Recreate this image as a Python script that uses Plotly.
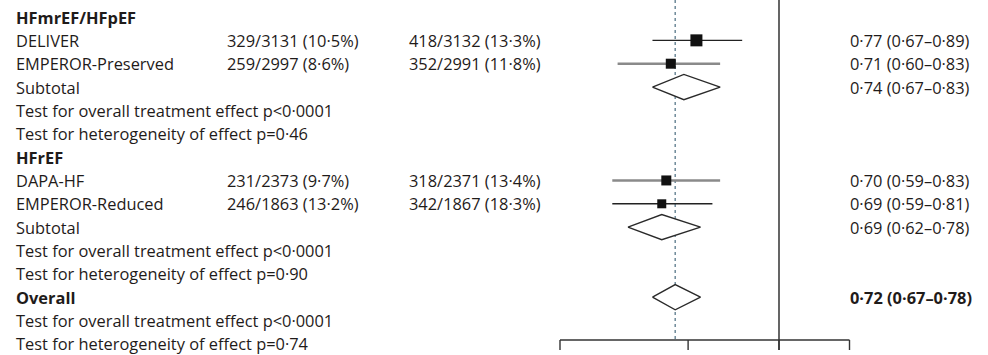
import math
import plotly.graph_objects as go

# Table rows, top to bottom
labels = [
    "HFmrEF/HFpEF", "DELIVER", "EMPEROR-Preserved", "Subtotal",
    "Test for overall treatment effect p<0·0001", "Test for heterogeneity of effect p=0·46",
    "HFrEF", "DAPA-HF", "EMPEROR-Reduced", "Subtotal",
    "Test for overall treatment effect p<0·0001", "Test for heterogeneity of effect p=0·90",
    "Overall",
    "Test for overall treatment effect p<0·0001", "Test for heterogeneity of effect p=0·74",
]
bold_rows = [0, 6, 12]

# Individual trials
study_rows = [1, 2, 7, 8]
sglt2_events = ["329/3131 (10·5%)", "259/2997 (8·6%)", "231/2373 (9·7%)", "246/1863 (13·2%)"]
placebo_events = ["418/3132 (13·3%)", "352/2991 (11·8%)", "318/2371 (13·4%)", "342/1867 (18·3%)"]
study_hr = [0.77, 0.71, 0.70, 0.69]
study_lo = [0.67, 0.60, 0.59, 0.59]
study_hi = [0.89, 0.83, 0.83, 0.81]
study_box = [12, 10, 10, 9]           # marker size reflects trial weight
study_ci_grey = [False, True, True, False]

# Pooled estimates
pooled_rows = [3, 9, 12]
pooled_hr = [0.74, 0.69, 0.72]
pooled_lo = [0.67, 0.62, 0.67]
pooled_hi = [0.83, 0.78, 0.78]

axis_ticks = [0.5, 0.75, 1.0, 1.25]

W, H = 988, 355
ROW0, ROWH = 17.0, 23.35


def row_of(px):
    return (px - ROW0) / ROWH


def fmt(v):
    return f"{v:.2f}".replace(".", "·")


TXT = "#1f1b1a"
FONT = "Open Sans"
FS = 16.4

fig = go.Figure()

# Confidence intervals
for grey in (False, True):
    xs, ys = [], []
    for r, lo, hi, g in zip(study_rows, study_lo, study_hi, study_ci_grey):
        if g == grey:
            xs += [lo, hi, None]
            ys += [r, r, None]
    fig.add_trace(go.Scatter(
        x=xs, y=ys, mode="lines", hoverinfo="skip",
        line=dict(color="#8a8a8a" if grey else "#222222", width=2.6 if grey else 1.4),
    ))

# Point estimates
fig.add_trace(go.Scatter(
    x=study_hr, y=study_rows, mode="markers",
    marker=dict(symbol="square", size=study_box, color="#111111", opacity=1,
                line=dict(width=0)),
))

# Pooled diamonds
half = 0.54
for r, hr, lo, hi in zip(pooled_rows, pooled_hr, pooled_lo, pooled_hi):
    fig.add_trace(go.Scatter(
        x=[lo, hr, hi, hr, lo], y=[r, r - half, r, r + half, r],
        mode="lines", fill="toself", fillcolor="white",
        line=dict(color="#2a2a2a", width=1.4),
    ))

# Reference lines
fig.add_shape(type="line", x0=1.0, x1=1.0, y0=row_of(0), y1=row_of(350),
              line=dict(color="#555555", width=1.8), layer="below")
fig.add_shape(type="line", x0=pooled_hr[-1], x1=pooled_hr[-1], y0=row_of(0), y1=row_of(340),
              line=dict(color="#6f8a99", width=1.5, dash="3px,3px"), layer="below")

# Horizontal axis with downward ticks
ax_y = row_of(340)
fig.add_shape(type="line", x0=axis_ticks[0], x1=axis_ticks[-1], y0=ax_y, y1=ax_y,
              line=dict(color="#333333", width=1.4))
for t in axis_ticks:
    fig.add_shape(type="line", x0=t, x1=t, y0=ax_y, y1=row_of(350),
                  line=dict(color="#333333", width=1.4))


# Text columns
def add_text(px, row, text, bold=False):
    fig.add_annotation(
        x=px / W, xref="paper", y=row, yref="y", text=f"<b>{text}</b>" if bold else text,
        showarrow=False, xanchor="left", yanchor="middle", borderpad=0,
        font=dict(family=FONT, size=FS, color=TXT),
    )


for i, lab in enumerate(labels):
    add_text(15, i, lab, bold=i in bold_rows)

for r, a, b, hr, lo, hi in zip(study_rows, sglt2_events, placebo_events, study_hr, study_lo, study_hi):
    add_text(226, r, a)
    add_text(408, r, b)
    add_text(849, r, f"{fmt(hr)} ({fmt(lo)}–{fmt(hi)})")

for r, hr, lo, hi in zip(pooled_rows, pooled_hr, pooled_lo, pooled_hi):
    add_text(849, r, f"{fmt(hr)} ({fmt(lo)}–{fmt(hi)})", bold=(r == 12))

# Log scale: 0.5 -> 560 px, 1.0 -> 779 px
px_per_dec = 219 / math.log10(2)
x_left = math.log10(0.5) - 560 / px_per_dec
x_right = x_left + W / px_per_dec

fig.update_layout(
    width=W, height=H, margin=dict(l=0, r=0, t=0, b=0),
    paper_bgcolor="white", plot_bgcolor="white", showlegend=False,
    xaxis=dict(type="log", range=[x_left, x_right], visible=False, fixedrange=True),
    yaxis=dict(range=[row_of(H), row_of(0)], visible=False, fixedrange=True),
)

fig.write_html("out.html")
